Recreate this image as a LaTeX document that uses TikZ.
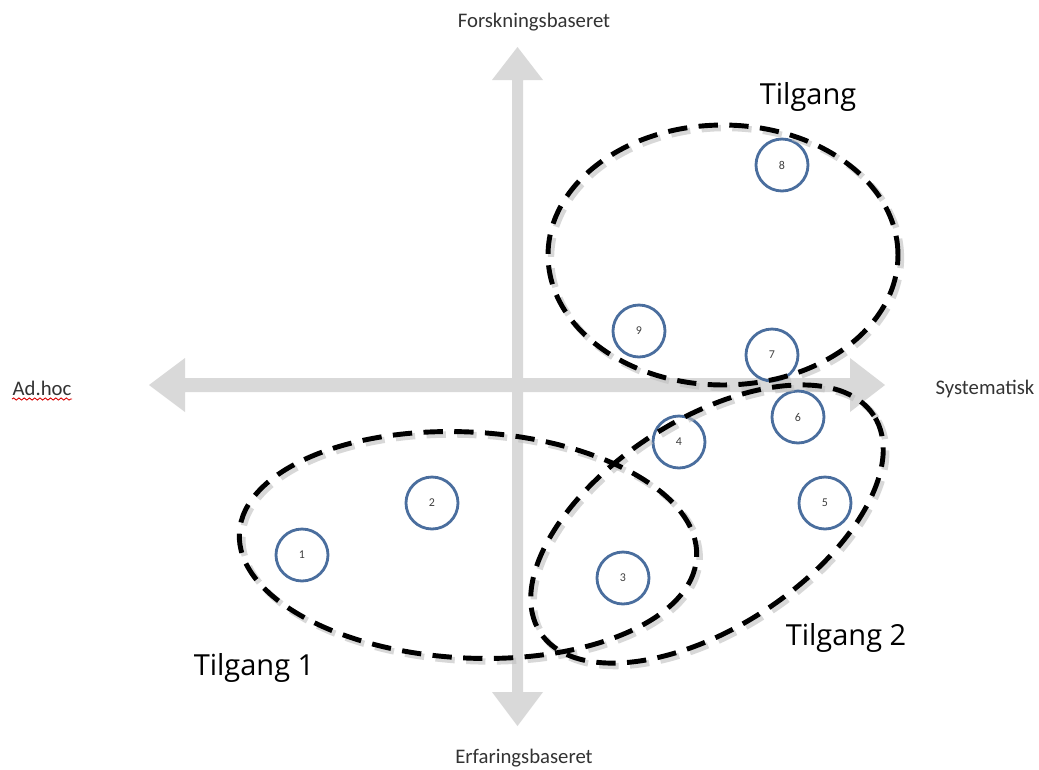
\documentclass[tikz,border=0pt]{standalone}
\usepackage{fontspec}
\setmainfont{Carlito}
\newfontfamily\opensans{Open Sans}
\usetikzlibrary{decorations.pathmorphing}
\definecolor{axisgray}{HTML}{D9D9D9}
\definecolor{ringblue}{HTML}{4A6E9E}
\begin{document}
\begin{tikzpicture}[x=0.02cm,y=0.02cm,
  ring/.style={circle, draw=ringblue, line width=1.6pt, minimum size=1.04cm, inner sep=0pt, font=\fontsize{6.8}{8}\selectfont, text=black!75},
  axislabel/.style={font=\fontsize{11.8}{13}\selectfont, text=black!80},
  grouplabel/.style={font=\opensans\fontsize{16.5}{19}\selectfont, text=black},
  dashring/.style={draw=black, line width=2.8pt, dash pattern=on 11pt off 6.5pt},
  dashshadow/.style={draw=black!25, line width=3.6pt, dash pattern=on 11pt off 6.5pt, opacity=0.6}]
\useasboundingbox (0,0) rectangle (1039,-769);
\fill[white] (0,0) rectangle (1039,-769);

% axes
\fill[axisgray] (512,-80) -- (492,-80) -- (517.5,-47) -- (543,-80) -- (523,-80)
  -- (523,-692) -- (543,-692) -- (517.5,-726) -- (492,-692) -- (512,-692) -- cycle;
\fill[axisgray] (185,-378) -- (185,-358) -- (149,-385) -- (185,-412) -- (185,-392)
  -- (850,-392) -- (850,-412) -- (885,-385) -- (850,-358) -- (850,-378) -- cycle;

% axis labels
\node[axislabel] (top) at (534,-22) {Forskningsbaseret};
\node[axislabel] (bottom) at (524,-758) {Erfaringsbaseret};
\node[axislabel] (left) at (42,-388) {Ad.hoc};
\node[axislabel] (right) at (985,-389) {Systematisk};
\draw[red!85!black, line width=0.5pt, decorate, decoration={snake, segment length=3pt, amplitude=0.6pt}] (12,-399) -- (72,-399);

% points
\node[ring] (n1) at (302,-555) {1};
\node[ring] (n2) at (432,-503) {2};
\node[ring] (n3) at (623,-578) {3};
\node[ring] (n4) at (679,-442) {4};
\node[ring] (n5) at (825,-503) {5};
\node[ring] (n6) at (798,-417) {6};
\node[ring] (n7) at (772,-355) {7};
\node[ring] (n8) at (782,-165) {8};
\node[ring] (n9) at (639,-331) {9};

% group ellipses (shadows)
\begin{scope}[shift={(3,-3)}]
\draw[dashshadow] (723,-255) ellipse [x radius=3.5cm, y radius=2.6cm];
\draw[dashshadow, rotate around={-3:(468,-545)}] (468,-545) ellipse [x radius=4.58cm, y radius=2.26cm];
\draw[dashshadow, rotate around={33:(707,-524)}] (707,-524) ellipse [x radius=3.98cm, y radius=2.08cm];
\end{scope}
% group ellipses
\draw[dashring] (723,-255) ellipse [x radius=3.5cm, y radius=2.6cm];
\draw[dashring, rotate around={-3:(468,-545)}] (468,-545) ellipse [x radius=4.58cm, y radius=2.26cm];
\draw[dashring, rotate around={33:(707,-524)}] (707,-524) ellipse [x radius=3.98cm, y radius=2.08cm];

% group labels
\node[grouplabel] (g0) at (808,-97) {Tilgang};
\node[grouplabel] (g1) at (254,-668) {Tilgang 1};
\node[grouplabel] (g2) at (846,-638) {Tilgang 2};
\end{tikzpicture}
\end{document}
